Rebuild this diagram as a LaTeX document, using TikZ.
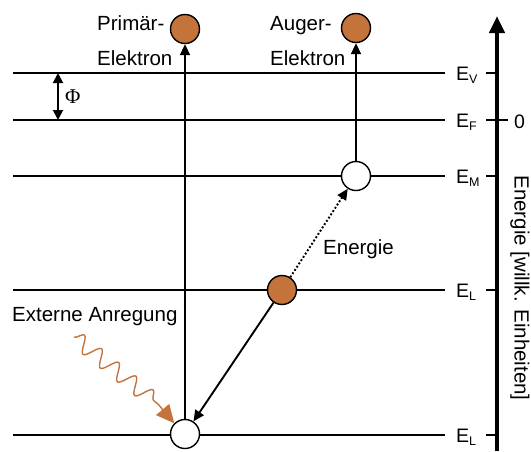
\documentclass[tikz,border=0pt]{standalone}
\usepackage{fontspec}
\setmainfont{Liberation Sans}
\newfontfamily\phifont{Liberation Serif}
\usetikzlibrary{arrows.meta,decorations.pathmorphing}
\definecolor{augorange}{RGB}{196,116,58}
\newcommand\levlab[1]{E\raisebox{-3.5pt}{\fontsize{12.5}{13}\selectfont #1}}
\begin{document}
\begin{tikzpicture}[x=1pt,y=-1pt,
  level/.style={line width=1.9pt},
  lbl/.style={font=\fontsize{19.5}{21}\selectfont, anchor=base west, inner sep=0},
  txt/.style={font=\fontsize{20.5}{24}\selectfont, inner sep=0, anchor=base west},
  orb/.style={circle, draw, line width=1.4pt, minimum size=29pt, inner sep=0},
  filledorb/.style={orb, fill=augorange},
  emptyorb/.style={orb, fill=white},
  tr/.style={line width=1.9pt, -{Triangle[length=11pt,width=10pt]}},
  tick/.style={line width=1.9pt}]
\useasboundingbox (0,0) rectangle (531,451);
% levels
\foreach \n/\y in {V/73,F/120,M/176,L/290,K/435}{
  \coordinate (\n l) at (13,\y);
  \coordinate (\n r) at (445,\y);
  \draw[level] (\n l) -- (\n r);
}
% level labels
\node[lbl] (labV) at (456,80) {\levlab{V}};
\node[lbl] (labF) at (456,127) {\levlab{F}};
\node[lbl] (labM) at (456,183) {\levlab{M}};
\node[lbl] (labL) at (456,297) {\levlab{L}};
\node[lbl] (labK) at (456,442) {\levlab{L}};
\node[lbl] (zero) at (514,128) {0};
% axis
\coordinate (axB) at (497,451);
\coordinate (axT) at (497,16);
\draw[line width=4.5pt, -{Triangle[length=17pt,width=15pt]}] (axB) -- (axT);
\foreach \n/\y in {V/73,M/176,L/290,K/435}{
  \coordinate (t\n a) at (486,\y);
  \coordinate (t\n b) at (497,\y);
  \draw[tick] (t\n a) -- (t\n b);
}
\coordinate (tFa) at (486,120);
\coordinate (tFb) at (508,120);
\draw[tick] (tFa) -- (tFb);
\node[txt, anchor=center, rotate=-90] (axlab) at (520,288) {Energie [willk. Einheiten]};
% work function
\coordinate (phT) at (58,73);
\coordinate (phB) at (58,120);
\draw[line width=1.9pt, {Triangle[length=10pt,width=10pt]}-{Triangle[length=10pt,width=10pt]}] (phT) -- (phB);
\node[inner sep=0, anchor=west, font=\phifont\fontsize{21}{24}\selectfont] (phi) at (65,97) {Φ};
% orbitals
\node[filledorb] (p) at (185,29) {};
\node[filledorb] (a) at (356,28) {};
\node[emptyorb] (m) at (356,176) {};
\node[filledorb] (l) at (282,290) {};
\node[emptyorb] (b) at (185,434) {};
% texts
\node[txt] (t1) at (97,30) {Primär-};
\node[txt] (t2) at (97,65) {Elektron};
\node[txt] (t3) at (270,30) {Auger-};
\node[txt] (t4) at (270,65) {Elektron};
\node[txt] (t5) at (12,321) {Externe Anregung};
\node[txt] (t6) at (323,254) {Energie};
% connectors
\draw[tr] (b) -- (p);
\draw[tr] (m) -- (a);
\draw[tr] (l) -- (b);
\draw[tr, dotted] (l) -- (m);
% excitation
\coordinate (w0) at (74,337);
\coordinate (w1) at (158,404);
\draw[augorange, line width=1.4pt, decorate,
  decoration={snake, amplitude=8pt, segment length=22pt}] (w0) -- (w1);
\draw[augorange, line width=1.4pt, -{Triangle[length=18pt,width=17pt]}] (w1) -- (b.135);
\end{tikzpicture}
\end{document}
